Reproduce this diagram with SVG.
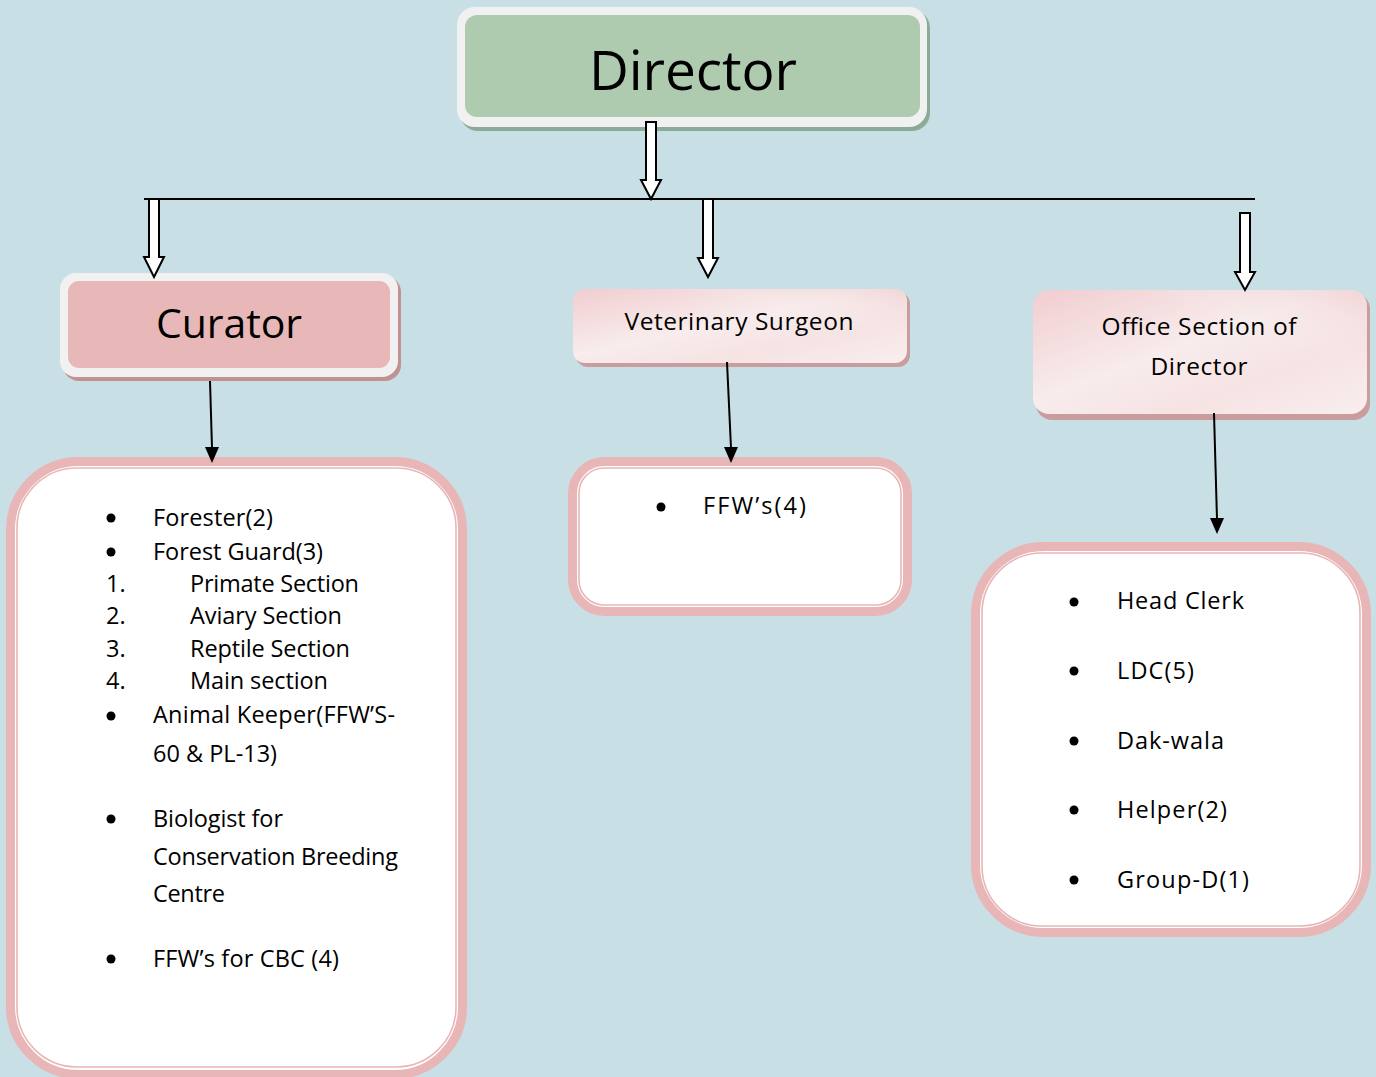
<svg xmlns="http://www.w3.org/2000/svg" width="1376" height="1077" viewBox="0 0 1376 1077">
<style>
text{font-family:"Open Sans","Liberation Sans",sans-serif;fill:#000}
.li{font-size:23.5px}
.hdr{font-size:24.5px}
.hollow{fill:#fff;stroke:#000;stroke-width:2;stroke-linejoin:miter}
.conn{stroke:#000;stroke-width:2;fill:none}
.thick{fill:#fff;stroke:#e8b6b6;stroke-width:9}
.thin{fill:none;stroke:#e8b6b6;stroke-width:1.6}
.frame{fill:#f1f1f1}
</style>
<defs>
<linearGradient id="pg" x1="0" y1="0" x2="1" y2="1">
<stop offset="0" stop-color="#f1cdd0"/>
<stop offset="0.45" stop-color="#f8ecec"/>
<stop offset="0.7" stop-color="#f6e3e4"/>
<stop offset="1" stop-color="#f9eeee"/>
</linearGradient>
<linearGradient id="pg2" x1="1" y1="0" x2="0" y2="1">
<stop offset="0" stop-color="#f0cfd1" stop-opacity="0.8"/>
<stop offset="0.35" stop-color="#f8eeee" stop-opacity="0"/>
</linearGradient>
</defs>
<rect width="1376" height="1077" fill="#c8dfe5"/>

<g id="director">
<rect x="460" y="10" width="470" height="121" rx="18" fill="#8aab97"/>
<rect x="457" y="7" width="470" height="120" rx="18" class="frame"/>
<rect x="465" y="15" width="455" height="102" rx="12" fill="#aecbb0"/>
<text x="693" y="90" font-size="55" text-anchor="middle" textLength="208">Director</text>
</g>

<g id="curator">
<rect x="63" y="276" width="338" height="105" rx="16" fill="#c29292"/>
<rect x="60" y="273" width="338" height="104" rx="16" class="frame"/>
<rect x="68" y="281" width="322" height="87" rx="11" fill="#e8b8b8"/>
<text x="229" y="338" font-size="41" text-anchor="middle" textLength="146">Curator</text>
</g>

<g id="vet">
<rect x="576" y="292" width="334" height="75" rx="12" fill="#c99c9e"/>
<rect x="573" y="289" width="334" height="74" rx="12" fill="url(#pg)"/>
<rect x="573" y="289" width="334" height="74" rx="12" fill="url(#pg2)"/>
<text x="739" y="330" class="hdr" text-anchor="middle" textLength="229">Veterinary Surgeon</text>
</g>

<g id="office">
<rect x="1036" y="293" width="334" height="127" rx="16" fill="#c99c9e"/>
<rect x="1033" y="290" width="334" height="124" rx="16" fill="url(#pg)"/>
<rect x="1033" y="290" width="334" height="124" rx="16" fill="url(#pg2)"/>
<text x="1199" y="335" class="hdr" text-anchor="middle" textLength="195">Office Section of</text>
<text x="1199" y="375" class="hdr" text-anchor="middle" textLength="97">Director</text>
</g>

<g id="curator-list">
<rect class="thick" x="10.5" y="461.5" width="452" height="613" rx="68"/>
<rect class="thin" x="17" y="468" width="439" height="599" rx="60"/>
<g fill="#000">
<circle cx="111" cy="518" r="4.5"/>
<circle cx="111" cy="552" r="4.5"/>
<circle cx="111" cy="716" r="4.5"/>
<circle cx="111" cy="819" r="4.5"/>
<circle cx="111" cy="959" r="4.5"/>
</g>
<text class="li" x="153" y="526" textLength="120">Forester(2)</text>
<text class="li" x="153" y="560" textLength="170">Forest Guard(3)</text>
<text class="li" x="106" y="592">1.</text>
<text class="li" x="190" y="592" textLength="169">Primate Section</text>
<text class="li" x="106" y="624">2.</text>
<text class="li" x="190" y="624" textLength="152">Aviary Section</text>
<text class="li" x="106" y="657">3.</text>
<text class="li" x="190" y="657" textLength="160">Reptile Section</text>
<text class="li" x="106" y="689">4.</text>
<text class="li" x="190" y="689" textLength="138">Main section</text>
<text class="li" x="153" y="723" textLength="242">Animal Keeper(FFW’S-</text>
<text class="li" x="153" y="762" textLength="124">60 &amp; PL-13)</text>
<text class="li" x="153" y="827" textLength="130">Biologist for</text>
<text class="li" x="153" y="865" textLength="245">Conservation Breeding</text>
<text class="li" x="153" y="902" textLength="72">Centre</text>
<text class="li" x="153" y="967" textLength="186">FFW’s for CBC (4)</text>
</g>

<g id="vet-list">
<rect class="thick" x="572.5" y="461.5" width="335" height="150" rx="32"/>
<rect class="thin" x="579" y="468" width="322" height="137" rx="25"/>
<circle cx="661" cy="507" r="4.5" fill="#000"/>
<text class="li" x="703" y="514" textLength="103">FFW’s(4)</text>
</g>

<g id="office-list">
<rect class="thick" x="975.5" y="546.5" width="391" height="386" rx="68"/>
<rect class="thin" x="982" y="553" width="378" height="373" rx="60"/>
<g fill="#000">
<circle cx="1074" cy="602" r="4.5"/>
<circle cx="1074" cy="671" r="4.5"/>
<circle cx="1074" cy="741" r="4.5"/>
<circle cx="1074" cy="810" r="4.5"/>
<circle cx="1074" cy="880" r="4.5"/>
</g>
<text class="li" x="1117" y="609" textLength="127">Head Clerk</text>
<text class="li" x="1117" y="679" textLength="77">LDC(5)</text>
<text class="li" x="1117" y="749" textLength="107">Dak-wala</text>
<text class="li" x="1117" y="818" textLength="110">Helper(2)</text>
<text class="li" x="1117" y="888" textLength="132">Group-D(1)</text>
</g>

<g id="connectors">
<line class="conn" x1="144" y1="199" x2="1255" y2="199"/>
<polygon class="hollow" points="646,122 656,122 656,180 661,180 651,199 641,180 646,180"/>
<polygon class="hollow" points="149,199 159,199 159,257 164,257 154,277 144,257 149,257"/>
<polygon class="hollow" points="703,199 713,199 713,258 718,258 708,277 698,258 703,258"/>
<polygon class="hollow" points="1240,213 1250,213 1250,272 1255,272 1245,290 1235,272 1240,272"/>
<line class="conn" x1="210" y1="381" x2="212" y2="448"/>
<path d="M205,447 L219,447 L212,463 Z" fill="#000"/>
<line class="conn" x1="727" y1="362" x2="731" y2="448"/>
<path d="M724,447 L738,447 L731,463 Z" fill="#000"/>
<line class="conn" x1="1214" y1="413" x2="1217" y2="519"/>
<path d="M1210,518 L1224,518 L1217,534 Z" fill="#000"/>
</g>
</svg>
